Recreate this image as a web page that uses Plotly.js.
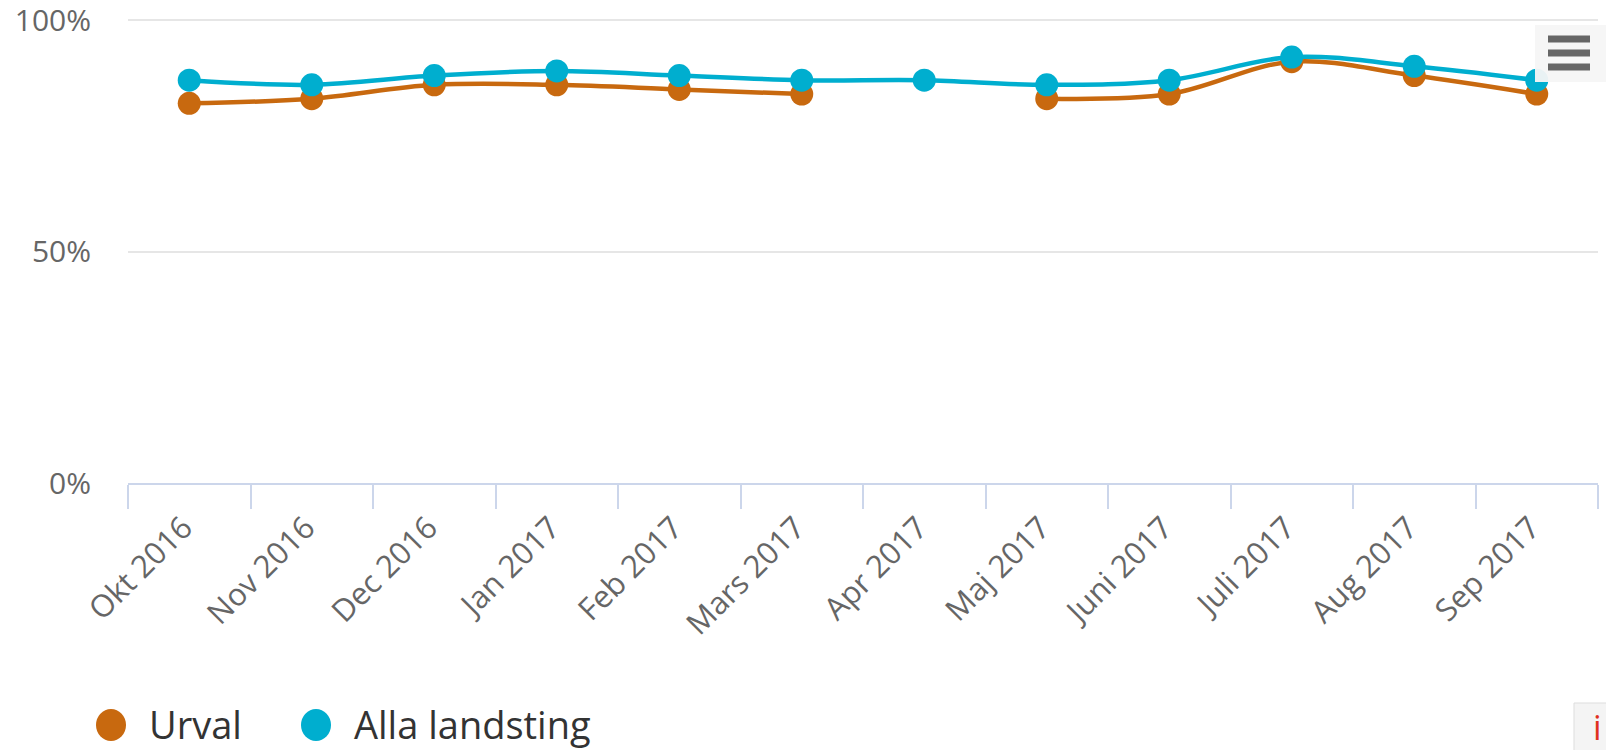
<!DOCTYPE html>
<html>
<head>
<meta charset="utf-8">
<script src="https://cdn.plot.ly/plotly-3.0.1.min.js"></script>
<style>
html,body{margin:0;padding:0;background:#fff;}
#chart{width:1606px;height:750px;}
</style>
</head>
<body>
<div id="chart"></div>
<script>
var categories = ['Okt 2016','Nov 2016','Dec 2016','Jan 2017','Feb 2017','Mars 2017','Apr 2017','Maj 2017','Juni 2017','Juli 2017','Aug 2017','Sep 2017'];
var urval = [82, 83, 86, 86, 85, 84, null, 83, 84, 91, 88, 84];
var allaLandsting = [87, 86, 88, 89, 88, 87, 87, 86, 87, 92, 90, 87];
var seriesNames = ['Urval', 'Alla landsting'];
var seriesColors = ['#C8690F', '#00AECF'];
var yTickVals = [0, 50, 100];
var yTickText = ['0%', '50%', '100%'];

var W = 1606, H = 750;
var M = {l: 128, r: 8, t: 12, b: 267};
var PW = W - M.l - M.r, PH = H - M.t - M.b;
// y=100 sits at pixel row 20 (a little below the plot top so its grid line and label show)
var yTop = 100 * PH / (H - M.b - 20);
function px(x){ return (x - M.l) / PW; }
function py(y){ return (H - M.b - y) / PH; }

function mkTrace(name, vals, color){
  return {
    type: 'scatter', mode: 'lines+markers', name: name,
    x: categories, y: vals,
    connectgaps: false,
    line: {color: color, width: 4.5, shape: 'spline', smoothing: 1},
    marker: {color: color, size: 23, line: {width: 0}},
    hoverinfo: 'x+y'
  };
}
var data = [
  mkTrace(seriesNames[0], urval, seriesColors[0]),
  mkTrace(seriesNames[1], allaLandsting, seriesColors[1])
];

var shapes = [];
var annotations = [];
// legend (custom, Highcharts-style)
var legendX = [111, 316];
seriesNames.forEach(function(n, i){
  shapes.push({type:'circle', xref:'paper', yref:'paper', xsizemode:'pixel', ysizemode:'pixel',
    xanchor: px(legendX[i]), yanchor: py(725), x0:-15, x1:15, y0:-16, y1:16,
    fillcolor: seriesColors[i], line:{width:0}});
  annotations.push({xref:'paper', yref:'paper', x: px(legendX[i] + 36), y: py(724),
    xanchor:'left', yanchor:'middle', showarrow:false, text: n,
    font:{family:'Open Sans', size:38, color:'#333333'}});
});
// export menu button
shapes.push({type:'rect', xref:'paper', yref:'paper', x0:px(1535), x1:px(1606), y0:py(82), y1:py(25),
  fillcolor:'rgba(245,245,245,0.95)', line:{width:0}, layer:'above'});
[39, 53, 67].forEach(function(yy){
  shapes.push({type:'line', xref:'paper', yref:'paper', x0:px(1548), x1:px(1590), y0:py(yy), y1:py(yy),
    line:{color:'#666666', width:7}, layer:'above'});
});
// info button
shapes.push({type:'rect', xref:'paper', yref:'paper', x0:px(1574), x1:px(1610), y0:py(752), y1:py(703),
  fillcolor:'#f4f4f4', line:{color:'#dddddd', width:1}, layer:'above'});
annotations.push({xref:'paper', yref:'paper', x: px(1597), y: py(727), xanchor:'center', yanchor:'middle',
  showarrow:false, text:'i', font:{family:'Open Sans', size:34, color:'#e0301e'}});

var layout = {
  width: W, height: H,
  margin: M,
  paper_bgcolor: '#ffffff', plot_bgcolor: '#ffffff',
  showlegend: false,
  font: {family: 'Open Sans', color: '#666666'},
  xaxis: {
    type: 'category', range: [-0.5, 11.5], tickson: 'boundaries',
    showgrid: false, zeroline: false,
    showline: true, linecolor: '#ccd6eb', linewidth: 2,
    ticks: 'outside', ticklen: 24, tickcolor: '#ccd6eb', tickwidth: 2,
    ticklabelstandoff: 12, ticklabelshift: -6,
    tickangle: -45, tickfont: {family: 'Open Sans', size: 31, color: '#666666'},
    fixedrange: true
  },
  yaxis: {
    range: [0, yTop], tickvals: yTickVals, ticktext: yTickText,
    showgrid: true, gridcolor: '#e6e6e6', gridwidth: 2,
    zeroline: false, showline: false, ticks: '',
    ticklabelstandoff: 36, ticklabeloverflow: 'allow',
    tickfont: {family: 'Open Sans', size: 30, color: '#666666'},
    fixedrange: true
  },
  shapes: shapes,
  annotations: annotations
};

Plotly.newPlot('chart', data, layout, {displayModeBar: false, staticPlot: false});
</script>
</body>
</html>
